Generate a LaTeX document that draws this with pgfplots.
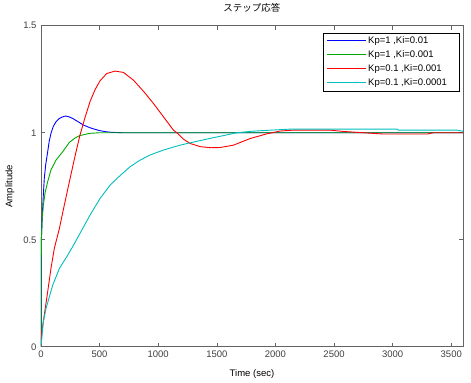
\documentclass[border=0pt]{standalone}
\usepackage{fontspec}
\setmainfont{Liberation Sans}
\newfontfamily\cjk{Noto Sans CJK JP}
\usepackage{pgfplots}
\pgfplotsset{compat=1.18}
\definecolor{mblue}{RGB}{0,0,255}
\definecolor{mgreen}{RGB}{0,170,0}
\definecolor{mred}{RGB}{255,0,0}
\definecolor{mcyan}{RGB}{0,191,191}
\definecolor{axgray}{RGB}{100,100,100}
\definecolor{txgray}{RGB}{64,64,64}
\begin{document}
\begin{tikzpicture}
\begin{axis}[
  scale only axis,
  width=422bp, height=321bp,
  xmin=0, xmax=3600, ymin=0, ymax=1.5,
  xtick={0,500,...,3500},
  ytick={0,0.5,1,1.5},
  yticklabels={0,0.5,1,1.5},
  tick align=inside,
  major tick length=4bp,
  tick style={axgray, line width=0.6bp},
  axis line style={axgray, line width=0.8bp},
  /pgf/number format/assume math mode=true,
  /pgf/number format/1000 sep={},
  tick label style={font=\fontsize{9.5bp}{11bp}\selectfont, color=txgray},
  xticklabel style={yshift=-1bp},
  yticklabel style={xshift=-1bp},
  title={\cjk\fontsize{9.5bp}{11bp}\selectfont ステップ応答},
  title style={at={(axis description cs:0.5,1.0374)}, anchor=center},
  xlabel={Time (sec)},
  xlabel style={at={(axis description cs:0.5,-0.0841)}, anchor=center, font=\fontsize{9.5bp}{11bp}\selectfont},
  ylabel={Amplitude},
  ylabel style={at={(axis description cs:-0.0735,0.5)}, anchor=center, font=\fontsize{9.5bp}{11bp}\selectfont},
  legend cell align=left,
  legend style={at={(axis description cs:1,1)}, anchor=north east, xshift=-3bp, yshift=-7bp,
    draw=black, line width=0.6bp, inner xsep=3bp, inner ysep=2.5bp,
    font=\fontsize{9.5bp}{11bp}\selectfont,
    nodes={inner sep=1.5bp, text height=6.8bp, text depth=1.8bp},
    row sep=2.2bp},
  legend image code/.code={\draw[#1, line width=1.2bp] (3.5bp,0.5bp) -- (42.5bp,0.5bp);},
]
\addplot[color=mblue, draw=mblue, line width=0.9bp] coordinates {
(0,0)(3,0.5)(10,0.6)(20,0.71)(28,0.786)(40,0.85)(57,0.911)(70,0.96)(85,0.997)(105,1.03)(128,1.051)(150,1.064)(171,1.071)(200,1.077)(213,1.078)(240,1.074)(270,1.067)(300,1.057)(327,1.048)(361,1.036)(384,1.031)(420,1.023)(455,1.017)(500,1.01)(550,1.005)(600,1.002)(700,1.0)(3600,1.0)};
\addlegendentry{\makebox[87bp][l]{Kp=1 ,Ki=0.01}}
\addplot[color=mgreen, draw=mgreen, line width=0.9bp] coordinates {
(0,0)(3,0.5)(10,0.6)(20,0.66)(35,0.72)(57,0.771)(85,0.826)(128,0.872)(185,0.911)(242,0.955)(290,0.975)(327,0.986)(412,0.997)(500,1.0)(3600,1.0)};
\addlegendentry{\makebox[87bp][l]{Kp=1 ,Ki=0.001}}
\addplot[color=mred, draw=mred, line width=0.9bp] coordinates {
(0,0)(5,0.062)(28,0.148)(57,0.257)(85,0.366)(114,0.46)(157,0.553)(199,0.662)(242,0.771)(290,0.89)(333,0.99)(375,1.07)(418,1.145)(460,1.2)(504,1.243)(561,1.277)(632,1.288)(703,1.282)(788,1.246)(874,1.194)(959,1.137)(1044,1.075)(1130,1.012)(1159,1.0)(1215,0.97)(1272,0.95)(1358,0.935)(1450,0.93)(1529,0.931)(1642,0.942)(1785,0.973)(1927,0.995)(2041,1.008)(2150,1.012)(2468,1.012)(2580,1.006)(2750,1.0)(2920,0.994)(3296,0.994)(3350,1.0)(3600,1.0)};
\addlegendentry{\makebox[87bp][l]{Kp=0.1 ,Ki=0.001}}
\addplot[color=mcyan, draw=mcyan, line width=0.9bp] coordinates {
(0,0)(7,0.039)(20,0.117)(43,0.179)(100,0.288)(157,0.366)(228,0.428)(262,0.46)(293,0.49)(333,0.53)(418,0.615)(504,0.693)(589,0.755)(675,0.80)(760,0.841)(845,0.872)(931,0.896)(1044,0.919)(1187,0.942)(1330,0.96)(1472,0.977)(1586,0.99)(1671,1.0)(1800,1.007)(1956,1.012)(2127,1.017)(3038,1.017)(3050,1.012)(3550,1.012)(3600,1.007)};
\addlegendentry{\makebox[87bp][l]{Kp=0.1 ,Ki=0.0001}}
\end{axis}
\path (current axis.south west) ++(-41bp,-36bp) coordinate (bl);
\path (current axis.north east) ++(8bp,24bp) coordinate (tr);
\path (bl) rectangle (tr);
\end{tikzpicture}
\end{document}
